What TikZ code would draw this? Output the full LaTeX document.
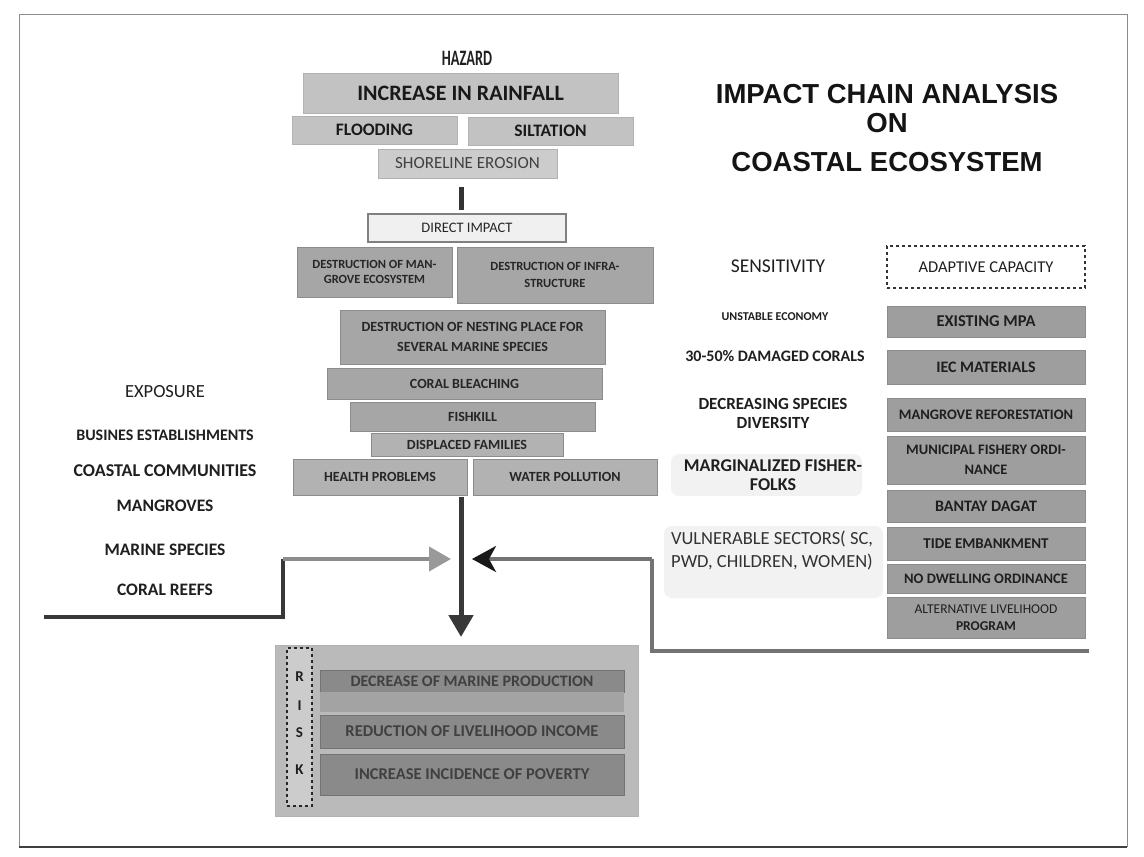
\documentclass[tikz,border=0pt]{standalone}
\usepackage{fontspec}
\setmainfont{Carlito}
\newfontfamily\titlefont{Liberation Sans}
\newfontfamily\narrowfont[FakeStretch=0.65]{Carlito}
\usetikzlibrary{arrows.meta}

\tikzset{
  bsz/.style 2 args={font={\bfseries\fontsize{#1}{#2}\selectfont}},
  rsz/.style 2 args={font={\fontsize{#1}{#2}\selectfont}},
  lbl/.style={inner sep=0pt, align=center, text=black!88},
  basebox/.style={inner sep=0pt, align=center, line width=0.7pt},
  hzbox/.style={basebox, fill=black!24, draw=black!30, text=black!90},
  impbox/.style={basebox, fill=black!35, draw=black!45, text=black!85},
  adbox/.style={basebox, fill=black!38, draw=black!45, text=black!88},
  riskbar/.style={basebox, fill=black!46, draw=black!55, text=black!75},
}

\begin{document}
\begin{tikzpicture}[x=1pt,y=-1pt]
\useasboundingbox (0,0) rectangle (1144,857);
\fill[white] (0,0) rectangle (1144,857);

% page frame
\draw[black!45, line width=1pt] (19,14) -- (1127,14) -- (1127,847);
\draw[black!45, line width=1pt] (19,14) -- (19,847);
\draw[black!75, line width=1.6pt] (19,847) -- (1127,847);

% title
\node[lbl, text=black!92, font=\titlefont\bfseries\fontsize{27.5}{30}\selectfont] (t1) at (887,94) {IMPACT CHAIN ANALYSIS};
\node[lbl, text=black!92, font=\titlefont\bfseries\fontsize{27.5}{30}\selectfont] (t2) at (887,123) {ON};
\node[lbl, text=black!92, font=\titlefont\bfseries\fontsize{27.5}{30}\selectfont] (t3) at (887,162) {COASTAL ECOSYSTEM};

% hazard chain
\node[lbl, font=\narrowfont\bfseries\fontsize{22}{24}\selectfont] (hazard) at (467,58) {HAZARD};
\node[hzbox, bsz={22}{24}, minimum width=315pt, minimum height=40pt] (rain) at (460.5,93) {INCREASE IN RAINFALL};
\node[hzbox, bsz={17.5}{19}, minimum width=165pt, minimum height=28pt] (flood) at (374.5,130) {FLOODING};
\node[hzbox, bsz={17.5}{19}, minimum width=165pt, minimum height=28pt] (silt) at (550.5,131) {SILTATION};
\node[hzbox, rsz={17}{18}, fill=black!20, text=black!75, minimum width=179pt, minimum height=29pt] (shore) at (467.5,163.5) {SHORELINE EROSION};

% direct impacts
\node[basebox, fill=black!6, draw=black!50, line width=1.4pt, rsz={14.5}{16}, text=black!85, minimum width=198pt, minimum height=28pt] (direct) at (467,228) {DIRECT IMPACT};
\coordinate (linkA) at (461,187);
\coordinate (linkB) at (461,210);
\draw[line width=5pt, black!80] (linkA) -- (linkB);

\node[impbox, bsz={12.5}{15}, minimum width=155pt, minimum height=50pt] (mang) at (374.5,272) {DESTRUCTION OF MAN-\\GROVE ECOSYSTEM};
\node[impbox, bsz={12.5}{17}, minimum width=196pt, minimum height=56pt] (infra) at (555,275) {DESTRUCTION OF INFRA-\\STRUCTURE};
\node[impbox, bsz={14}{20}, minimum width=265pt, minimum height=54pt] (nest) at (472.5,337) {DESTRUCTION OF NESTING PLACE FOR\\SEVERAL MARINE SPECIES};
\node[impbox, bsz={14}{15}, minimum width=275pt, minimum height=31pt] (coral) at (464.5,383.5) {CORAL BLEACHING};
\node[impbox, bsz={14}{15}, minimum width=245pt, minimum height=29pt] (fish) at (472.5,416.5) {FISHKILL};
\node[impbox, bsz={14}{15}, fill=black!30, minimum width=192pt, minimum height=23pt] (displ) at (467,444.5) {DISPLACED FAMILIES};
\node[impbox, bsz={14}{15}, fill=black!30, minimum width=174pt, minimum height=36pt] (health) at (380,477) {HEALTH PROBLEMS};
\node[impbox, bsz={14}{15}, fill=black!30, minimum width=184pt, minimum height=36pt] (water) at (565,477) {WATER POLLUTION};

% risk block
\node[basebox, fill=black!27, draw=black!30, minimum width=363pt, minimum height=171pt] (risk) at (456.5,730.5) {};
\node[basebox, draw=black!85, dashed, line width=1.2pt, fill=black!20, minimum width=25pt, minimum height=158pt] (riskcol) at (299.5,727) {};
\node[lbl, bsz={15}{16}] (rR) at (299.5,677) {R};
\node[lbl, bsz={15}{16}] (rI) at (299.5,706) {I};
\node[lbl, bsz={15}{16}] (rS) at (299.5,733) {S};
\node[lbl, bsz={15}{16}] (rK) at (299.5,770) {K};
\node[riskbar, bsz={16}{17}, minimum width=304pt, minimum height=22pt] (r1) at (472,681) {DECREASE OF MARINE PRODUCTION};
\fill[black!36] (r1.south west) rectangle ([yshift=-20pt]r1.south east);
\node[riskbar, bsz={16.5}{17}, minimum width=304pt, minimum height=33pt] (r2) at (472,731.5) {REDUCTION OF LIVELIHOOD INCOME};
\node[riskbar, bsz={16.5}{17}, minimum width=304pt, minimum height=41pt] (r3) at (472,774.5) {INCREASE INCIDENCE OF POVERTY};

% impacts lead to risk
\coordinate (chainEnd) at (461,497);
\coordinate (riskIn) at (461,637);
\draw[line width=5pt, black!78, -{Triangle[length=22pt,width=24pt]}] (chainEnd) -- (riskIn);

% exposure
\node[lbl, rsz={18.5}{20}] (expo) at (165,392) {EXPOSURE};
\node[lbl, bsz={16}{17}] (e1) at (165,435) {BUSINES ESTABLISHMENTS};
\node[lbl, bsz={18}{19}] (e2) at (165,471) {COASTAL COMMUNITIES};
\node[lbl, bsz={17.5}{19}] (e3) at (165,506) {MANGROVES};
\node[lbl, bsz={17.5}{19}] (e4) at (165,550) {MARINE SPECIES};
\node[lbl, bsz={17.5}{19}] (e5) at (165,590) {CORAL REEFS};

\coordinate (expoStart) at (44,617);
\coordinate (expoCorner) at (283,559);
\coordinate (expoTip) at (451,559);
\draw[line width=4pt, black!78] (expoStart) -| (expoCorner);
\draw[line width=4pt, black!45, -{Triangle[length=22pt,width=24pt,color=black!40]}] (expoCorner) -- (expoTip);

% sensitivity
\fill[black!5, rounded corners=8pt] (671,454) rectangle (862,496);
\fill[black!5, rounded corners=8pt] (664,526) rectangle (883,598);
\node[lbl, rsz={19.5}{21}] (sens) at (778,266) {SENSITIVITY};
\node[lbl, bsz={12}{13}] (s1) at (775,317) {UNSTABLE ECONOMY};
\node[lbl, bsz={16}{17}] (s2) at (775,356) {30-50\% DAMAGED CORALS};
\node[lbl, bsz={17}{19}] (s3) at (773,413) {DECREASING SPECIES\\DIVERSITY};
\node[lbl, bsz={18}{19}] (s4) at (773,475) {MARGINALIZED FISHER-\\FOLKS};
\node[lbl, rsz={18.5}{23}, text=black!80] (s5) at (772,551) {VULNERABLE SECTORS( SC,\\PWD, CHILDREN, WOMEN)};

% adaptive capacity
\node[basebox, draw=black!80, dashed, line width=1.2pt, rsz={16.5}{18}, text=black!88, minimum width=198pt, minimum height=42pt] (adapt) at (986,267) {ADAPTIVE CAPACITY};
\node[adbox, bsz={16.5}{18}, minimum width=198pt, minimum height=31pt] (a1) at (986,321.5) {EXISTING MPA};
\node[adbox, bsz={16}{18}, minimum width=198pt, minimum height=34pt] (a2) at (986,367) {IEC MATERIALS};
\node[adbox, bsz={14.5}{16}, minimum width=198pt, minimum height=33pt] (a3) at (986,414.5) {MANGROVE REFORESTATION};
\node[adbox, bsz={14.5}{20}, minimum width=198pt, minimum height=48pt] (a4) at (986,460) {MUNICIPAL FISHERY ORDI-\\NANCE};
\node[adbox, bsz={16}{18}, minimum width=198pt, minimum height=32pt] (a5) at (986,506) {BANTAY DAGAT};
\node[adbox, bsz={15}{17}, minimum width=198pt, minimum height=33pt] (a6) at (986,543.5) {TIDE EMBANKMENT};
\node[adbox, bsz={14.5}{16}, minimum width=198pt, minimum height=29pt] (a7) at (986,578.5) {NO DWELLING ORDINANCE};
\node[adbox, rsz={13.5}{17}, minimum width=198pt, minimum height=41pt] (a8) at (986,617.5) {ALTERNATIVE LIVELIHOOD\\\textbf{PROGRAM}};

\coordinate (capStart) at (1089,651);
\coordinate (capCorner) at (652,559);
\coordinate (capTip) at (472,559);
\draw[line width=3.5pt, black!55] (capStart) -| (capCorner);
\draw[line width=3.5pt, black!55, -{Stealth[length=24pt,width=26pt,inset=7pt,color=black!90]}] (capCorner) -- (capTip);
\end{tikzpicture}
\end{document}
